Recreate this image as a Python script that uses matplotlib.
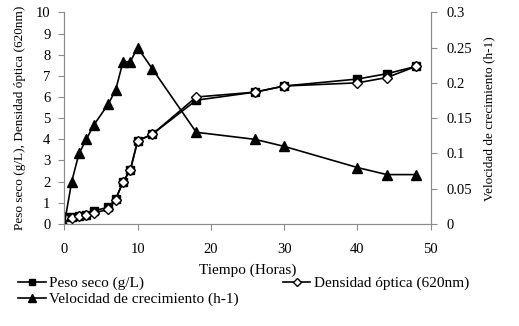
import numpy as np
import matplotlib
matplotlib.use("Agg")
import matplotlib.pyplot as plt
from matplotlib.ticker import FormatStrFormatter, MultipleLocator

plt.rcParams['font.family'] = ['Liberation Serif', 'DejaVu Serif']

# tiempo de muestreo (h)
tiempo = [0, 1, 2, 3, 4, 6, 7, 8, 9, 10, 12, 18, 26, 30, 40, 44, 48]
peso_seco = [0.34, 0.32, 0.38, 0.44, 0.62, 0.79, 1.18, 2.0, 2.55, 3.93, 4.24,
             5.85, 6.23, 6.52, 6.85, 7.1, 7.45]
densidad = [0.34, 0.30, 0.36, 0.42, 0.52, 0.69, 1.15, 1.98, 2.55, 3.93, 4.24,
            6.0, 6.23, 6.52, 6.67, 6.92, 7.45]
velocidad = [0.0, 0.06, 0.10, 0.12, 0.14, 0.17, 0.19, 0.23, 0.23, 0.25, 0.22,
             0.13, 0.12, 0.11, 0.08, 0.07, 0.07]

fig = plt.figure(figsize=(5.19, 3.26), dpi=100)
ax = fig.add_axes([0.124, 0.313, 0.706, 0.649])
ax2 = ax.twinx()

l1, = ax.plot(tiempo, peso_seco, color='black', lw=1.2, marker='s', ms=5.5,
              mfc='black', mec='black', zorder=3)
l2, = ax.plot(tiempo, densidad, color='black', lw=1.2, marker='D', ms=5,
              mfc='white', mec='black', mew=1.0, zorder=4)
l3, = ax2.plot(tiempo, velocidad, color='black', lw=1.2, marker='^', ms=7,
               mfc='black', mec='black')

ax.set_xlim(0, 50)
ax.set_ylim(0, 10)
ax2.set_ylim(0, 0.3)
ax.xaxis.set_major_locator(MultipleLocator(10))
ax.yaxis.set_major_locator(MultipleLocator(1))
ax2.yaxis.set_major_locator(MultipleLocator(0.05))
ax2.yaxis.set_major_formatter(FormatStrFormatter('%g'))

spine_col = '#8c8c8c'
for a in (ax, ax2):
    for s in a.spines.values():
        s.set_color(spine_col)
        s.set_linewidth(0.8)
    a.spines['top'].set_visible(False)
    a.tick_params(colors=spine_col, labelcolor='black', labelsize=10.5,
                  length=4, width=0.8)
ax.tick_params(axis='x', pad=10)
ax.tick_params(axis='y', pad=6)
ax2.tick_params(axis='y', pad=7)

ax.set_xlabel('Tiempo (Horas)', fontsize=11, labelpad=5)
ax.set_ylabel('Peso seco (g/L), Densidad óptica (620nm)', fontsize=9.5, labelpad=7)
ax2.set_ylabel('Velocidad de crecimiento (h-1)', fontsize=9.5, labelpad=8)

fig.legend([l1, l3, l2],
           ['Peso seco (g/L)', 'Velocidad de crecimiento (h-1)',
            'Densidad óptica (620nm)'],
           ncol=2, loc='upper left', bbox_to_anchor=(0.015, 0.185),
           frameon=False, fontsize=11, handlelength=1.8, handletextpad=0.2,
           columnspacing=2.9, labelspacing=0.15, markerscale=0.75,
           borderpad=0.2)

fig.savefig('out.png', dpi=100)
